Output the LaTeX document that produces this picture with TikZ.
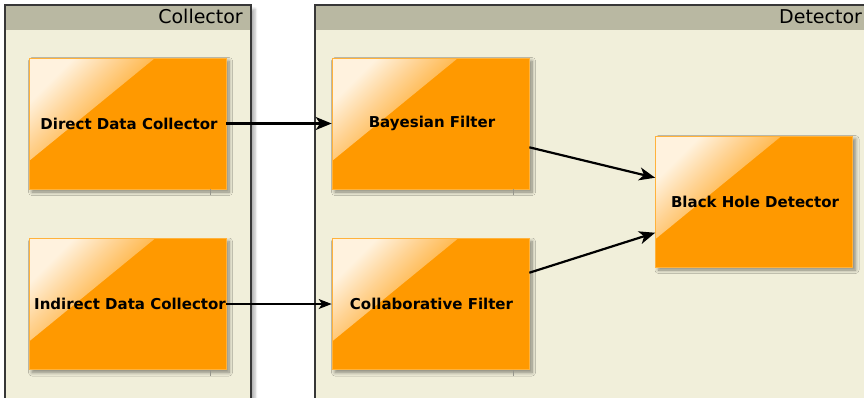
\documentclass[tikz,border=0pt]{standalone}
\usepackage{fontspec}
\setmainfont{DejaVu Sans}
\usetikzlibrary{shadows.blur,arrows.meta,calc}

\definecolor{panelfill}{RGB}{241,239,218}
\definecolor{panelhead}{RGB}{185,184,162}
\definecolor{panelline}{RGB}{55,55,55}
\definecolor{boxfill}{RGB}{255,153,0}
\definecolor{boxline}{RGB}{255,178,60}
\definecolor{glosslight}{RGB}{255,242,222}
\definecolor{glossmid}{RGB}{255,212,150}
\definecolor{glosslow}{RGB}{255,182,72}
\definecolor{glossedge}{RGB}{255,164,32}
\definecolor{tickgray}{RGB}{150,150,140}

% highlight in the upper left corner of each component box
\pgfdeclareverticalshading{glossshade}{100bp}{%
  color(0bp)=(glossedge); color(50bp)=(glossedge); color(57bp)=(glosslow);
  color(67bp)=(glossmid); color(76bp)=(glosslight); color(100bp)=(glosslight)}

\tikzset{
  panel/.style={draw=panelline, line width=1.3pt, fill=panelfill,
    blur shadow={shadow xshift=4pt, shadow yshift=-4pt, shadow blur radius=2.5pt, shadow opacity=30}},
  panelhdr/.style={anchor=base east, inner sep=0pt, font=\fontsize{19}{21}\selectfont},
  compbox/.style={rectangle, fill=boxfill, draw=boxline, line width=0.7pt,
    minimum width=197pt, minimum height=131pt, inner sep=0pt,
    font=\bfseries\fontsize{15}{18}\selectfont,
    blur shadow={shadow xshift=3pt, shadow yshift=-3pt, shadow blur radius=3.5pt,
      shadow blur steps=8, shadow opacity=45},
    path picture={
      \shade[shading=glossshade, shading angle=45]
        (path picture bounding box.north west) -- ++(126pt,0pt) -- ++(-126pt,-103pt) -- cycle;
    }},
  flow/.style={-{Stealth[length=16pt, width=13pt, inset=4.5pt]}, line width=2.2pt, black},
  thinflow/.style={-{Stealth[length=13pt, width=10pt, inset=3.5pt]}, line width=1.1pt, black},
  tick/.style={draw=tickgray, line width=0.6pt},
}

\begin{document}
\begin{tikzpicture}[x=1pt, y=-1pt]
  \useasboundingbox (0,0) rectangle (864,397);
  \clip (0,0) rectangle (864,397);

  % Collector panel
  \path[panel] (5,5) rectangle (251,430);
  \fill[panelhead] (5,5) rectangle (251,30);
  \draw[draw=panelline, line width=1.3pt] (5,5) rectangle (251,430);
  \node[panelhdr] (collectorhdr) at (243,23) {Collector};

  % Detector panel
  \path[panel] (315,5) rectangle (880,430);
  \fill[panelhead] (315,5) rectangle (880,30);
  \draw[draw=panelline, line width=1.3pt] (315,5) rectangle (880,430);
  \node[panelhdr, anchor=base west] (detectorhdr) at (779,23) {Detector};

  % Components
  \node[compbox] (direct)   at (127.5,123.5) {\hspace*{3pt}Direct Data Collector};
  \node[compbox] (indirect) at (127.5,304)   {\hspace*{5pt}Indirect Data Collector};
  \node[compbox] (bayes)    at (430.5,123.5) {\hspace*{3pt}Bayesian Filter};
  \node[compbox] (collab)   at (430.5,304)   {\hspace*{2pt}Collaborative Filter};
  \node[compbox] (bhd)      at (754,201.5)   {\hspace*{2pt}Black Hole Detector};

  % small marks under the boxes
  \coordinate (t1) at ($(direct.south east)+(-16pt,0pt)$);
  \coordinate (t2) at ($(bayes.south east)+(-16pt,0pt)$);
  \coordinate (t3) at ($(indirect.south east)+(-16pt,0pt)$);
  \coordinate (t4) at ($(collab.south east)+(-16pt,0pt)$);
  \foreach \t in {t1,t2,t3,t4} \draw[tick] (\t) -- ++(0pt,-6pt);

  % Connectors
  \draw[flow] (direct) -- (bayes);
  \draw[thinflow] (indirect) -- (collab);
  \draw[flow] (bayes) -- (bhd);
  \draw[flow] (collab) -- (bhd);
\end{tikzpicture}
\end{document}
